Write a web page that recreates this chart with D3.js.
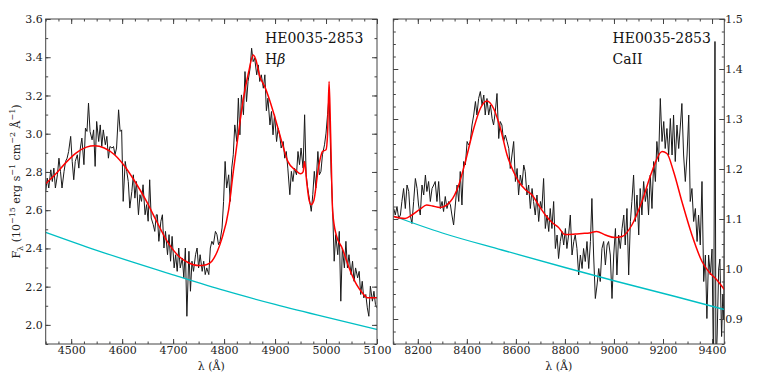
<!DOCTYPE html>
<html lang="en">
<head>
<meta charset="UTF-8">
<script src="https://cdnjs.cloudflare.com/ajax/libs/d3/7.8.5/d3.min.js"></script>
<style>
  body { margin: 0; background: #fff; }
  svg { display: block; font-family: "DejaVu Serif", serif; }
  .tick text { fill: #222; font-size: 11px; font-family: "DejaVu Serif", serif; }
  .tick line { stroke: #444; }
</style>
<title>HE0035-2853</title>
</head>
<body>
<svg id="chart" width="763" height="383"></svg>
<script>
// ---- H-beta panel: observed spectrum [wavelength, flux] ----
var hbSpec = [
  [4450,2.698],[4453,2.768],[4456,2.716],[4460,2.811],[4463,2.750],[4466,2.820],[4469,2.716],[4473,2.785],
  [4476,2.872],[4479,2.803],[4482,2.716],[4486,2.803],[4489,2.855],[4492,2.872],[4495,2.907],[4499,2.986],
  [4502,2.855],[4505,2.759],[4508,2.855],[4512,2.890],[4515,2.820],[4518,2.925],[4521,2.977],[4525,2.838],
  [4528,3.029],[4531,3.012],[4534,3.160],[4537,3.012],[4541,2.968],[4544,3.020],[4547,2.829],[4550,3.064],
  [4554,2.959],[4557,3.046],[4560,2.933],[4563,3.020],[4567,2.942],[4570,2.986],[4573,2.872],[4576,2.933],
  [4580,2.925],[4583,2.933],[4586,2.890],[4589,2.925],[4593,3.125],[4596,3.012],[4599,3.020],[4602,2.646],
  [4606,2.855],[4609,2.803],[4612,2.750],[4615,2.611],[4619,2.698],[4622,2.785],[4625,2.663],[4628,2.750],
  [4632,2.576],[4635,2.681],[4638,2.646],[4641,2.733],[4645,2.576],[4648,2.629],[4651,2.542],[4654,2.759],
  [4657,2.559],[4661,2.524],[4664,2.489],[4667,2.576],[4669,2.576],[4672,2.437],[4676,2.542],[4679,2.576],
  [4682,2.402],[4685,2.489],[4689,2.367],[4692,2.472],[4695,2.333],[4698,2.463],[4702,2.298],[4705,2.367],
  [4708,2.280],[4711,2.402],[4714,2.298],[4718,2.350],[4721,2.246],[4724,2.402],[4727,2.045],[4731,2.385],
  [4734,2.176],[4737,2.333],[4740,2.280],[4744,2.367],[4747,2.402],[4750,2.298],[4753,2.367],[4757,2.280],
  [4760,2.333],[4763,2.263],[4766,2.298],[4770,2.263],[4773,2.402],[4776,2.437],[4779,2.420],[4783,2.489],
  [4786,2.472],[4789,2.420],[4792,2.437],[4796,2.507],[4799,2.646],[4802,2.855],[4805,2.716],[4809,2.785],
  [4812,2.646],[4815,2.820],[4818,2.890],[4821,3.046],[4825,2.959],[4828,3.186],[4831,2.994],[4834,3.203],
  [4838,3.099],[4841,3.325],[4844,3.168],[4847,3.273],[4851,3.342],[4854,3.447],[4857,3.377],[4860,3.395],
  [4864,3.308],[4867,3.360],[4870,3.273],[4873,3.308],[4877,3.238],[4880,3.308],[4883,3.120],[4886,3.186],
  [4890,3.046],[4893,3.116],[4896,2.994],[4899,3.099],[4903,2.959],[4906,3.029],[4909,2.994],[4912,2.925],
  [4916,2.959],[4919,2.872],[4922,2.907],[4925,2.820],[4929,2.681],[4932,2.803],[4935,2.750],[4938,2.820],
  [4942,2.785],[4945,2.907],[4948,2.838],[4951,2.925],[4955,2.820],[4958,3.099],[4961,2.785],[4964,2.716],
  [4968,2.646],[4971,2.594],[4974,2.681],[4977,2.803],[4980,2.716],[4984,2.907],[4987,2.785],[4990,2.803],
  [4993,2.890],[4997,2.942],[5000,3.003],[5003,3.100],[5006,3.200],[5010,2.800],[5013,2.600],[5016,2.333],
  [5019,2.472],[5023,2.367],[5026,2.489],[5029,2.124],[5032,2.402],[5036,2.298],[5039,2.437],[5042,2.298],
  [5045,2.367],[5049,2.263],[5052,2.333],[5055,2.228],[5058,2.298],[5062,2.246],[5065,2.280],[5068,2.159],
  [5071,2.228],[5074,2.141],[5078,2.159],[5081,2.089],[5084,2.045],[5087,2.202],[5091,2.124],[5094,2.176],
  [5097,2.106],[5100,2.089]
];
// H-beta panel: fitted model
var hbModel = [
  [4450,2.738],[4470,2.79],[4490,2.85],[4510,2.90],[4530,2.93],[4546,2.937],[4565,2.925],[4585,2.89],
  [4605,2.83],[4625,2.75],[4646,2.655],[4666,2.55],[4690,2.43],[4711,2.359],[4730,2.325],[4750,2.31],
  [4765,2.315],[4776,2.333],[4786,2.38],[4795,2.446],[4809,2.603],[4818,2.80],[4828,3.00],[4838,3.186],
  [4848,3.32],[4857,3.412],[4862,3.39],[4870,3.30],[4880,3.245],[4890,3.17],[4902,3.064],[4914,2.95],
  [4925,2.855],[4940,2.81],[4950,2.79],[4955,2.80],[4958,2.855],[4962,2.75],[4967,2.65],[4971,2.629],
  [4976,2.65],[4985,2.82],[4993,2.907],[5000,2.916],[5003,3.0],[5006,3.273],[5009,3.0],[5013,2.594],
  [5020,2.47],[5032,2.40],[5045,2.30],[5060,2.21],[5071,2.168],[5081,2.142],[5100,2.142]
];
// H-beta panel: continuum
var hbCont = [[4450,2.484],[4550,2.39],[4700,2.262],[4800,2.18],[4900,2.107],[5000,2.04],[5100,1.976]];

// ---- CaII panel: observed spectrum ----
var caSpec = [
  [8102,1.121],[8108,1.108],[8115,1.125],[8122,1.101],[8129,1.108],[8135,1.135],[8142,1.161],[8149,1.121],
  [8156,1.168],[8163,1.155],[8169,1.108],[8176,1.091],[8183,1.135],[8190,1.181],[8197,1.161],[8203,1.128],
  [8210,1.108],[8217,1.168],[8224,1.148],[8231,1.188],[8237,1.155],[8244,1.175],[8251,1.135],[8258,1.161],
  [8265,1.168],[8271,1.175],[8278,1.135],[8285,1.175],[8292,1.121],[8299,1.135],[8305,1.115],[8312,1.145],
  [8319,1.121],[8326,1.135],[8333,1.128],[8339,1.108],[8346,1.088],[8353,1.128],[8360,1.168],[8367,1.135],
  [8373,1.195],[8380,1.128],[8387,1.215],[8394,1.208],[8401,1.255],[8407,1.248],[8414,1.255],[8421,1.288],
  [8428,1.308],[8435,1.335],[8441,1.308],[8448,1.341],[8455,1.355],[8462,1.328],[8469,1.348],[8475,1.308],
  [8482,1.341],[8489,1.308],[8496,1.328],[8503,1.301],[8509,1.288],[8516,1.315],[8523,1.351],[8530,1.261],
  [8536,1.295],[8543,1.288],[8550,1.255],[8557,1.268],[8564,1.255],[8571,1.241],[8577,1.201],[8584,1.228],
  [8591,1.255],[8598,1.175],[8605,1.201],[8611,1.148],[8618,1.188],[8625,1.168],[8632,1.208],[8638,1.195],
  [8645,1.148],[8652,1.168],[8659,1.121],[8666,1.161],[8672,1.135],[8679,1.108],[8686,1.148],[8693,1.095],
  [8700,1.135],[8706,1.121],[8713,1.181],[8720,1.081],[8727,1.108],[8734,1.075],[8740,1.121],[8747,1.081],
  [8754,1.135],[8761,1.041],[8768,1.068],[8774,1.021],[8781,1.055],[8788,1.075],[8795,1.048],[8802,1.081],
  [8808,1.041],[8815,1.068],[8822,1.108],[8829,1.028],[8836,1.055],[8842,1.068],[8849,1.041],[8856,0.988],
  [8863,1.028],[8870,1.001],[8876,1.041],[8883,1.015],[8890,1.055],[8897,1.001],[8904,1.055],[8910,1.141],
  [8917,1.028],[8924,0.941],[8931,0.968],[8938,1.001],[8944,0.975],[8951,1.041],[8958,1.055],[8965,1.008],
  [8972,1.048],[8978,1.055],[8985,1.028],[8992,0.941],[8999,1.028],[9006,1.081],[9012,0.988],[9019,1.068],
  [9026,1.041],[9033,1.081],[9040,1.108],[9046,1.048],[9053,1.121],[9060,0.988],[9067,1.095],[9073,1.135],
  [9080,1.188],[9087,1.095],[9094,1.148],[9101,1.068],[9107,1.161],[9114,1.108],[9121,1.175],[9128,1.135],
  [9135,1.161],[9141,1.108],[9148,1.188],[9155,1.121],[9162,1.215],[9169,1.175],[9175,1.255],[9182,1.215],
  [9189,1.341],[9196,1.255],[9203,1.295],[9209,1.241],[9216,1.281],[9223,1.228],[9230,1.301],[9237,1.228],
  [9243,1.308],[9250,1.215],[9257,1.288],[9264,1.241],[9271,1.288],[9277,1.331],[9284,1.228],[9291,1.175],
  [9298,1.228],[9305,1.308],[9311,1.135],[9318,1.161],[9325,1.095],[9332,1.121],[9339,1.055],[9345,1.108],
  [9352,1.048],[9359,1.175],[9366,0.975],[9373,1.028],[9379,0.901],[9386,1.028],[9393,0.988],[9400,1.040],
  [9406,0.800],[9412,1.455],[9416,0.800],[9421,0.870],[9427,1.000],[9432,1.020],[9439,0.865],[9444,0.950],
  [9448,0.900],[9450,1.148]
];
// CaII panel: fitted model
var caModel = [
  [8100,1.105],[8148,1.101],[8176,1.108],[8210,1.12],[8236,1.128],[8260,1.126],[8290,1.123],[8333,1.135],
  [8367,1.168],[8394,1.215],[8428,1.281],[8455,1.321],[8482,1.336],[8509,1.321],[8537,1.281],[8564,1.228],
  [8590,1.195],[8611,1.175],[8640,1.158],[8666,1.148],[8690,1.13],[8720,1.108],[8750,1.092],[8774,1.083],
  [8800,1.069],[8842,1.070],[8870,1.071],[8900,1.072],[8929,1.075],[8965,1.068],[9004,1.063],[9033,1.065],
  [9073,1.088],[9114,1.135],[9155,1.195],[9196,1.235],[9216,1.231],[9243,1.195],[9277,1.135],[9318,1.068],
  [9359,1.015],[9386,0.995],[9420,0.978],[9450,0.959]
];
// CaII panel: continuum
var caCont = [[8100,1.106],[8300,1.072],[8543,1.038],[8800,1.003],[9012,0.975],[9250,0.945],[9450,0.919]];

// axis ticks
var hbXTicks = [4500,4600,4700,4800,4900,5000,5100];
var hbYTicks = [2.0,2.2,2.4,2.6,2.8,3.0,3.2,3.4,3.6];
var caXTicks = [8200,8400,8600,8800,9000,9200,9400];
var caYTicks = [0.9,1.0,1.1,1.2,1.3,1.4,1.5];

var svg = d3.select("#chart");
var top0 = 19, bot0 = 344;

function panel(opt) {
  var x = d3.scaleLinear().domain(opt.xDom).range([opt.x0, opt.x1]);
  var y = d3.scaleLinear().domain(opt.yDom).range([bot0, top0]);
  var g = svg.append("g");

  g.append("clipPath").attr("id", opt.id + "clip")
    .append("rect").attr("x", opt.x0).attr("y", top0)
    .attr("width", opt.x1 - opt.x0).attr("height", bot0 - top0);

  var plot = g.append("g").attr("clip-path", "url(#" + opt.id + "clip)");
  var line = d3.line().x(d => x(d[0])).y(d => y(d[1]));
  var smooth = d3.line().x(d => x(d[0])).y(d => y(d[1])).curve(d3.curveMonotoneX);

  plot.append("path").attr("d", line(opt.spec))
    .attr("fill", "none").attr("stroke", "#1a1a1a").attr("stroke-width", 1);
  plot.append("path").attr("d", smooth(opt.cont))
    .attr("fill", "none").attr("stroke", "#00bfc4").attr("stroke-width", 1.3);
  plot.append("path").attr("d", smooth(opt.model))
    .attr("fill", "none").attr("stroke", "#ff0000").attr("stroke-width", 1.5);

  // ticks, all pointing inwards
  function ax(axis, tv, size, fmt, tr) {
    var a = axis.tickValues(tv).tickSize(-size).tickPadding(3).tickFormat(fmt);
    var s = g.append("g").attr("transform", tr).call(a);
    s.select(".domain").remove();
    return s;
  }
  var none = () => "";
  var xMinor = d3.range(opt.xDom[0], opt.xDom[1] + 1e-6, opt.xMinor);
  var yMinor = d3.range(opt.yDom[0], opt.yDom[1] + 1e-6, opt.yMinor);

  ax(d3.axisBottom(x), xMinor, 2.5, none, "translate(0," + bot0 + ")");
  ax(d3.axisTop(x), xMinor, 2.5, none, "translate(0," + top0 + ")");
  ax(d3.axisBottom(x), opt.xTicks, 5, d3.format("d"), "translate(0," + bot0 + ")")
    .selectAll("text").attr("dy", "0.68em");
  ax(d3.axisTop(x), opt.xTicks, 5, none, "translate(0," + top0 + ")");

  ax(d3.axisLeft(y), yMinor, 2.5, none, "translate(" + opt.x0 + ",0)");
  ax(d3.axisRight(y), yMinor, 2.5, none, "translate(" + opt.x1 + ",0)");
  ax(d3.axisLeft(y), opt.yTicks, 5, opt.labelLeft ? d3.format(".1f") : none, "translate(" + opt.x0 + ",0)");
  ax(d3.axisRight(y), opt.yTicks, 5, opt.labelLeft ? none : d3.format(".1f"), "translate(" + opt.x1 + ",0)")
    .selectAll("text").attr("dx", "-2");

  g.append("rect").attr("x", opt.x0).attr("y", top0)
    .attr("width", opt.x1 - opt.x0).attr("height", bot0 - top0)
    .attr("fill", "none").attr("stroke", "#444").attr("stroke-width", 1);

  g.append("text").attr("x", (opt.x0 + opt.x1) / 2).attr("y", 369.5)
    .attr("text-anchor", "middle").attr("font-size", 11).attr("fill", "#222")
    .text("λ (Å)");

  var t = g.append("text").attr("font-size", 14).attr("fill", "#111");
  t.append("tspan").attr("x", opt.tx).attr("y", 42.5).text("HE0035-2853");
  var t2 = g.append("text").attr("font-size", 14).attr("fill", "#111")
    .attr("x", opt.tx).attr("y", 64);
  opt.line2(t2);
}

panel({
  id: "hb", xDom: [4450, 5100], yDom: [1.9, 3.6], x0: 45.7, x1: 377,
  xTicks: hbXTicks, yTicks: hbYTicks, xMinor: 25, yMinor: 0.1, labelLeft: true,
  spec: hbSpec, model: hbModel, cont: hbCont, tx: 265,
  line2: t => { t.append("tspan").text("H"); t.append("tspan").attr("font-style", "italic").text("β"); }
});

panel({
  id: "ca", xDom: [8100, 9450], yDom: [0.85, 1.5], x0: 393.3, x1: 724.3,
  xTicks: caXTicks, yTicks: caYTicks, xMinor: 50, yMinor: 0.025, labelLeft: false,
  spec: caSpec, model: caModel, cont: caCont, tx: 612.5,
  line2: t => t.text("CaII")
});

// y-axis label
var yl = svg.append("text")
  .attr("transform", "translate(20," + (top0 + bot0) / 2 + ") rotate(-90)")
  .attr("text-anchor", "middle").attr("font-size", 11).attr("fill", "#222");
yl.append("tspan").text("F");
yl.append("tspan").attr("font-size", 8).attr("dy", 3).text("λ");
yl.append("tspan").attr("dy", -3).text(" (10");
yl.append("tspan").attr("font-size", 8).attr("dy", -5).text("−15");
yl.append("tspan").attr("dy", 5).text(" erg s");
yl.append("tspan").attr("font-size", 8).attr("dy", -5).text("−1");
yl.append("tspan").attr("dy", 5).text(" cm");
yl.append("tspan").attr("font-size", 8).attr("dy", -5).text("−2");
yl.append("tspan").attr("dy", 5).text(" Å");
yl.append("tspan").attr("font-size", 8).attr("dy", -5).text("−1");
yl.append("tspan").attr("dy", 5).text(")");
</script>
</body>
</html>
